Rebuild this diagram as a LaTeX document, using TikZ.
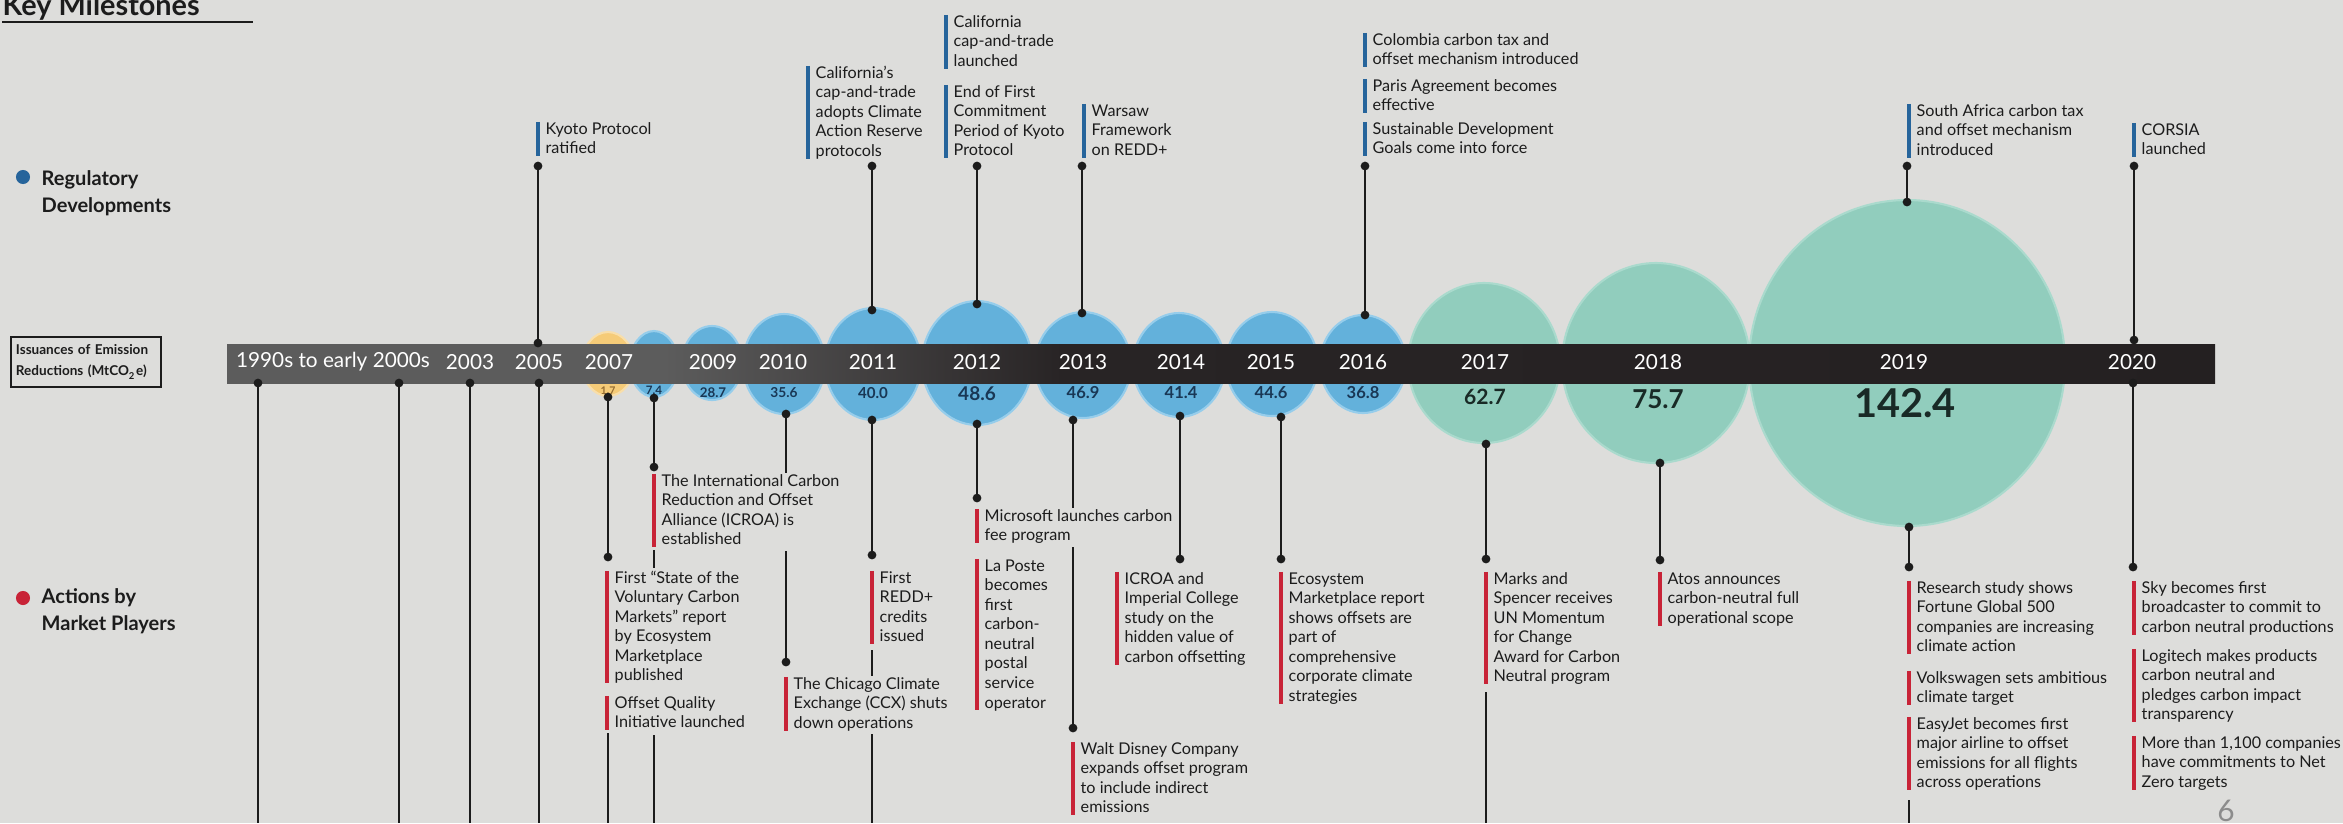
\documentclass[tikz,border=0pt]{standalone}
\usepackage{fontspec}
\setmainfont{Lato}
\usetikzlibrary{calc}
\definecolor{bg}{RGB}{221,221,219}
\definecolor{ink}{RGB}{28,28,28}
\definecolor{bblue}{RGB}{99,177,219}
\definecolor{bbluel}{RGB}{150,205,235}
\definecolor{bgreen}{RGB}{145,205,189}
\definecolor{bgreenl}{RGB}{170,218,205}
\definecolor{byellow}{RGB}{245,203,120}
\definecolor{byellowl}{RGB}{248,222,170}
\definecolor{navy}{RGB}{25,55,85}
\definecolor{gink}{RGB}{25,42,38}
\definecolor{brownv}{RGB}{150,110,50}
\definecolor{regc}{RGB}{38,100,155}
\definecolor{actc}{RGB}{200,35,55}
\definecolor{bargrey}{RGB}{92,92,92}
\definecolor{bardark}{RGB}{40,36,37}
\definecolor{barend}{RGB}{33,29,30}
\definecolor{pgnum}{RGB}{140,140,140}
\pgfdeclarehorizontalshading{barshade}{100bp}{color(0bp)=(bargrey); color(36bp)=(bargrey); color(46bp)=(bardark); color(100bp)=(barend)}
% event label: name, bar x, first-line centre y, bar style, text
\newcommand\mkevt[5]{%
  \node[evtxt, anchor=north west] (#1) at (#2+7,#3-8) {\strut#5\strut};
  \draw[#4] ([xshift=-2pt,yshift=-0.5pt]#1.north west) -- ([xshift=-2pt,yshift=1.2pt]#1.south west);}
% connector: name, x, y1, y2
\newcommand\mkconn[4]{%
  \coordinate (#1a) at (#2,#3);
  \coordinate (#1b) at (#2,#4);
  \draw[conn] (#1a) -- (#1b);}
\newcommand\mkdot[1]{\fill[dotc] (#1) circle[radius=1.25pt];}
\begin{document}
\begin{tikzpicture}[x=0.01cm, y=-0.01cm,
  conn/.style={draw=ink, line width=0.6pt},
  dotc/.style={fill=ink},
  regbar/.style={draw=regc, line width=1.3pt},
  actbar/.style={draw=actc, line width=1.3pt},
  evtxt/.style={font=\fontsize{4.6}{5.55}\selectfont, text=ink, align=left, inner sep=0pt, fill=bg},
  yr/.style={font=\fontsize{5.9}{7}\selectfont, text=white, inner sep=0pt},
  val/.style={font=\bfseries\fontsize{#1}{#1}\selectfont, text=navy, inner sep=0pt},
  gval/.style={font=\bfseries\fontsize{#1}{#1}\selectfont, text=gink, inner sep=0pt},
  bluebub/.style={fill=bblue, draw=bbluel, line width=0.6pt},
  greenbub/.style={fill=bgreen, draw=bgreenl, line width=0.6pt},
  legtxt/.style={font=\bfseries\fontsize{5.7}{7.7}\selectfont, text=ink, align=left, inner sep=0pt}
]
\useasboundingbox (0,0) rectangle (2343,823);
\fill[bg] (0,0) rectangle (2343,823);
\clip (0,0) rectangle (2343,823);

% title
\node[anchor=base west, font=\bfseries\fontsize{8.2}{9}\selectfont, text=ink, inner sep=0pt] (title) at (2,15) {Key Milestones};
\coordinate (ulA) at (2,22);
\coordinate (ulB) at (253,22);
\draw[ink, line width=0.75pt] (ulA) -- (ulB);

% legend
\fill[regc] (23,177) circle[radius=2pt];
\node[legtxt, anchor=west] (legreg) at (41,193) {Regulatory\\Developments};
\fill[actc] (23,598) circle[radius=2pt];
\node[legtxt, anchor=west] (legact) at (41,611) {Actions by\\Market Players};
\node[draw=ink, line width=0.6pt, minimum width=1.5cm, minimum height=0.5cm, text width=1.4cm, align=left, inner xsep=0.05cm, inner ysep=0pt, font=\bfseries\fontsize{3.85}{6}\selectfont, text=ink] (issu) at (86,362) {Issuances of Emission\\Reductions (MtCO\textsubscript{2}e)};

% bubbles
\filldraw[fill=byellow, draw=byellowl, line width=0.6pt] (608,364) ellipse[x radius=26, y radius=32];
\filldraw[bluebub] (654,364) ellipse[x radius=24, y radius=33];
\filldraw[bluebub] (712,363) ellipse[x radius=30, y radius=37];
\filldraw[bluebub] (784,364) ellipse[x radius=41, y radius=50];
\filldraw[bluebub] (873,364) ellipse[x radius=48, y radius=56];
\filldraw[bluebub] (977,363) ellipse[x radius=55, y radius=62];
\filldraw[bluebub] (1083,365) ellipse[x radius=48, y radius=53];
\filldraw[bluebub] (1179,365) ellipse[x radius=46, y radius=52];
\filldraw[bluebub] (1272,364) ellipse[x radius=46, y radius=52];
\filldraw[bluebub] (1363,364) ellipse[x radius=43, y radius=49];
\filldraw[greenbub] (1484,363) ellipse[x radius=76, y radius=80];
\filldraw[greenbub] (1656,363) ellipse[x radius=94, y radius=100];
\filldraw[greenbub] (1907,363) ellipse[x radius=158, y radius=163];

% timeline bar
\shade[shading=barshade] (227,344) rectangle (2215,383);

% years
\node[yr] (y90) at (333,362) {1990s to early 2000s};
\node[yr] (y03) at (470,362) {2003};
\node[yr] (y05) at (539,362) {2005};
\node[yr] (y07) at (609,362) {2007};
\node[yr] (y09) at (713,362) {2009};
\node[yr] (y10) at (783,362) {2010};
\node[yr] (y11) at (873,362) {2011};
\node[yr] (y12) at (977,362) {2012};
\node[yr] (y13) at (1083,362) {2013};
\node[yr] (y14) at (1181,362) {2014};
\node[yr] (y15) at (1271,362) {2015};
\node[yr] (y16) at (1363,362) {2016};
\node[yr] (y17) at (1485,362) {2017};
\node[yr] (y18) at (1658,362) {2018};
\node[yr] (y19) at (1904,362) {2019};
\node[yr] (y20) at (2132,362) {2020};

% values
\node[val=3, text=brownv] (v07) at (608,391) {1.7};
\node[val=3.3] (v08) at (654,390) {7.4};
\node[val=3.8] (v09) at (713,393) {28.7};
\node[val=3.9] (v10) at (784,393) {35.6};
\node[val=4.3] (v11) at (873,393) {40.0};
\node[val=5.4] (v12) at (977,394) {48.6};
\node[val=4.7] (v13) at (1083,393) {46.9};
\node[val=4.7] (v14) at (1181,393) {41.4};
\node[val=4.7] (v15) at (1271,393) {44.6};
\node[val=4.7] (v16) at (1363,393) {36.8};
\node[gval=6] (v17) at (1485,397) {62.7};
\node[gval=7.4] (v18) at (1658,399) {75.7};
\node[gval=11.3] (v19) at (1905,403) {142.4};

% connectors, regulatory side
\mkconn{u05}{538}{166}{343}
\mkconn{u11}{872}{166}{310}
\mkconn{u12}{977}{166}{304}
\mkconn{u13}{1082}{166}{313}
\mkconn{u16}{1365}{166}{315}
\mkconn{u19}{1907}{166}{202}
\mkconn{u20}{2134}{166}{340}
% connectors, market side
\mkconn{l90}{258}{383}{823}
\mkconn{l00}{399}{383}{823}
\mkconn{l03}{470}{383}{823}
\mkconn{l05}{539}{383}{823}
\mkconn{l07}{608}{397}{557}
\mkconn{l07c}{608}{733}{823}
\mkconn{l08}{654}{398}{467}
\mkconn{l08c}{654}{550}{568}
\mkconn{l08d}{654}{735}{823}
\mkconn{l10}{786}{414}{662}
\mkconn{l11}{872}{420}{555}
\mkconn{l11c}{872}{650}{823}
\mkconn{l12}{977}{424}{498}
\mkconn{l13}{1073}{420}{728}
\mkconn{l14}{1180}{416}{559}
\mkconn{l15}{1281}{417}{559}
\mkconn{l17}{1486}{444}{559}
\mkconn{l17c}{1486}{692}{823}
\mkconn{l18}{1660}{463}{560}
\mkconn{l19}{1909}{527}{567}
\mkconn{l19c}{1909}{800}{823}
\mkconn{l20}{2133}{383}{567}

% regulatory events
\mkevt{kyoto}{538}{128}{regbar}{Kyoto Protocol\\ratified}
\mkevt{calres}{808}{72}{regbar}{California's\\cap-and-trade\\adopts Climate\\Action Reserve\\protocols}
\mkevt{calct}{946}{21}{regbar}{California\\cap-and-trade\\launched}
\mkevt{kyoend}{946}{91}{regbar}{End of First\\Commitment\\Period of Kyoto\\Protocol}
\mkevt{warsaw}{1084}{110}{regbar}{Warsaw\\Framework\\on REDD+}
\mkevt{colombia}{1365}{39}{regbar}{Colombia carbon tax and\\offset mechanism introduced}
\mkevt{paris}{1365}{85}{regbar}{Paris Agreement becomes\\effective}
\mkevt{sdg}{1365}{128}{regbar}{Sustainable Development\\Goals come into force}
\mkevt{safrica}{1909}{110}{regbar}{South Africa carbon tax\\and offset mechanism\\introduced}
\mkevt{corsia}{2134}{129}{regbar}{CORSIA\\launched}

% market events
\mkevt{icroa}{654}{480}{actbar}{The International Carbon\\Reduction and Offset\\Alliance (ICROA) is\\established}
\mkevt{sovcm}{607}{577}{actbar}{First “State of the\\Voluntary Carbon\\Markets” report\\by Ecosystem\\Marketplace\\published}
\mkevt{oqi}{607}{702}{actbar}{Offset Quality\\Initiative launched}
\mkevt{ccx}{786}{683}{actbar}{The Chicago Climate\\Exchange (CCX) shuts\\down operations}
\mkevt{redd}{872}{577}{actbar}{First\\REDD+\\credits\\issued}
\mkevt{msft}{977}{515}{actbar}{Microsoft launches carbon\\fee program}
\mkevt{laposte}{977}{565}{actbar}{La Poste\\becomes\\first\\carbon-\\neutral\\postal\\service\\operator}
\mkevt{disney}{1073}{748}{actbar}{Walt Disney Company\\expands offset program\\to include indirect\\emissions}
\mkevt{icic}{1117}{578}{actbar}{ICROA and\\Imperial College\\study on the\\hidden value of\\carbon offsetting}
\mkevt{ecomp}{1281}{578}{actbar}{Ecosystem\\Marketplace report\\shows offsets are\\part of\\comprehensive\\corporate climate\\strategies}
\mkevt{mands}{1486}{578}{actbar}{Marks and\\Spencer receives\\UN Momentum\\for Change\\Award for Carbon\\Neutral program}
\mkevt{atos}{1660}{578}{actbar}{Atos announces\\carbon-neutral full\\operational scope}
\mkevt{fortune}{1909}{587}{actbar}{Research study shows\\Fortune Global 500\\companies are increasing\\climate action}
\mkevt{vw}{1909}{677}{actbar}{Volkswagen sets ambitious\\climate target}
\mkevt{easyjet}{1909}{723}{actbar}{EasyJet becomes first\\major airline to offset\\emissions for all flights\\across operations}
\mkevt{sky}{2134}{587}{actbar}{Sky becomes first\\broadcaster to commit to\\carbon neutral productions}
\mkevt{logi}{2134}{655}{actbar}{Logitech makes products\\carbon neutral and\\pledges carbon impact\\transparency}
\mkevt{netzero}{2134}{742}{actbar}{More than 1,100 companies\\have commitments to Net\\Zero targets}

% dots
\foreach \c in {u05a,u05b,u11a,u11b,u12a,u12b,u13a,u13b,u16a,u16b,u19a,u19b,u20a,u20b,
  l90a,l00a,l03a,l05a,l07a,l07b,l08a,l08b,l10a,l10b,l11a,l11b,l12a,l12b,l13a,l13b,
  l14a,l14b,l15a,l15b,l17a,l17b,l18a,l18b,l19a,l19b,l20a,l20b}
  {\mkdot{\c}}

% page number
\node[anchor=base, font=\fontsize{8.5}{9}\selectfont, text=pgnum, inner sep=0pt] (pnum) at (2226,821) {6};
\end{tikzpicture}
\end{document}
